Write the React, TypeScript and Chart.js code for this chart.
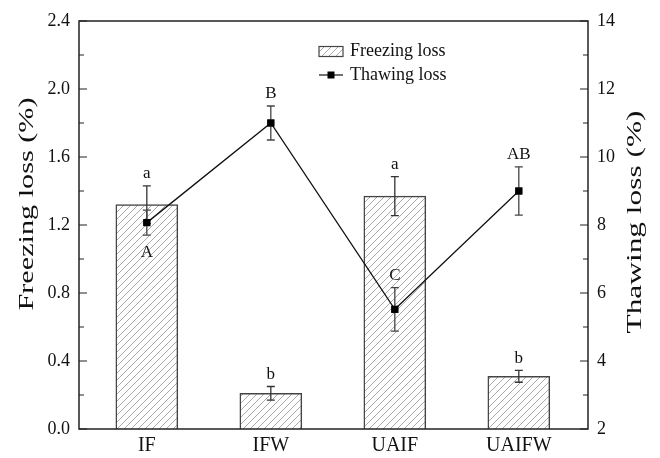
import React, { useEffect, useRef } from "react";
import { Chart, registerables } from "chart.js";

Chart.register(...registerables);

const categories = ["IF", "IFW", "UAIF", "UAIFW"];
const freezingLoss = [1.32, 0.21, 1.37, 0.31];
const freezingErr = [0.11, 0.04, 0.115, 0.035];
const thawingLoss = [8.07, 11.0, 5.52, 9.0];
const thawingErr = [0.37, 0.5, 0.64, 0.71];
const freezingLetters = ["a", "b", "a", "b"];
const thawingLetters = ["A", "B", "C", "AB"];
const thawingLetterBelow = [true, false, false, false];

const leftTitle = "Freezing loss (%)";
const rightTitle = "Thawing loss (%)";
const legendLabels = ["Freezing loss", "Thawing loss"];

const FONT = "'Liberation Serif', 'Times New Roman', serif";

function makeHatch(): CanvasPattern | string {
  const c = document.createElement("canvas");
  const s = 7;
  c.width = s;
  c.height = s;
  const g = c.getContext("2d");
  if (!g) return "#fff";
  g.fillStyle = "#ffffff";
  g.fillRect(0, 0, s, s);
  g.strokeStyle = "#a0a0a0";
  g.lineWidth = 0.9;
  g.beginPath();
  g.moveTo(-1, s + 1);
  g.lineTo(s + 1, -1);
  g.moveTo(-1, 1);
  g.lineTo(1, -1);
  g.moveTo(s - 1, s + 1);
  g.lineTo(s + 1, s - 1);
  g.stroke();
  const p = g.createPattern(c, "repeat");
  return p || "#fff";
}

export default function App() {
  const ref = useRef<HTMLCanvasElement | null>(null);

  useEffect(() => {
    if (!ref.current) return;
    const hatch = makeHatch();

    const overlay = {
      id: "overlay",
      afterDatasetsDraw(chart: any) {
        const ctx = chart.ctx as CanvasRenderingContext2D;
        const xs = chart.scales.x;
        const yl = chart.scales.y;
        const yr = chart.scales.y2;
        ctx.save();
        const drawErr = (x: number, yTop: number, yBot: number, color: string) => {
          ctx.strokeStyle = color;
          ctx.lineWidth = 1.3;
          ctx.beginPath();
          ctx.moveTo(x, yTop);
          ctx.lineTo(x, yBot);
          ctx.moveTo(x - 4, yTop);
          ctx.lineTo(x + 4, yTop);
          ctx.moveTo(x - 4, yBot);
          ctx.lineTo(x + 4, yBot);
          ctx.stroke();
        };
        ctx.font = `17px ${FONT}`;
        ctx.fillStyle = "#111";
        ctx.textAlign = "center";
        ctx.textBaseline = "middle";
        categories.forEach((_, i) => {
          const x = xs.getPixelForValue(i);
          const t = yl.getPixelForValue(freezingLoss[i] + freezingErr[i]);
          const b = yl.getPixelForValue(freezingLoss[i] - freezingErr[i]);
          drawErr(x, t, b, "#333");
          ctx.fillText(freezingLetters[i], x, t - 12);
        });
        categories.forEach((_, i) => {
          const x = xs.getPixelForValue(i);
          const t = yr.getPixelForValue(thawingLoss[i] + thawingErr[i]);
          const b = yr.getPixelForValue(thawingLoss[i] - thawingErr[i]);
          drawErr(x, t, b, "#444");
          if (thawingLetterBelow[i]) ctx.fillText(thawingLetters[i], x, b + 17);
          else ctx.fillText(thawingLetters[i], x, t - 12);
        });
        const meta = chart.getDatasetMeta(1);
        ctx.fillStyle = "#000";
        meta.data.forEach((pt: any) => {
          ctx.fillRect(pt.x - 3.5, pt.y - 3.5, 7, 7);
        });
        ctx.restore();
      },
      afterDraw(chart: any) {
        const ctx = chart.ctx as CanvasRenderingContext2D;
        const { left, right, top, bottom } = chart.chartArea;
        const yl = chart.scales.y;
        const yr = chart.scales.y2;
        ctx.save();
        ctx.strokeStyle = "#222";
        ctx.lineWidth = 1.5;
        ctx.strokeRect(left, top, right - left, bottom - top);
        ctx.lineWidth = 1.2;
        ctx.beginPath();
        for (let k = 0; k <= 12; k++) {
          const y = yl.getPixelForValue(k * 0.2);
          const len = k % 2 === 0 ? 8 : 5;
          ctx.moveTo(left, y);
          ctx.lineTo(left + len, y);
        }
        for (let v = 2; v <= 14; v++) {
          const y = yr.getPixelForValue(v);
          const len = v % 2 === 0 ? 8 : 5;
          ctx.moveTo(right, y);
          ctx.lineTo(right - len, y);
        }
        ctx.stroke();

        const drawTitle = (text: string, cx: number, cy: number, len: number) => {
          ctx.save();
          ctx.translate(cx, cy);
          ctx.rotate(-Math.PI / 2);
          ctx.font = `21px ${FONT}`;
          const w = ctx.measureText(text).width;
          ctx.scale(len / w, 1);
          ctx.fillStyle = "#111";
          ctx.textAlign = "center";
          ctx.textBaseline = "middle";
          ctx.fillText(text, 0, 0);
          ctx.restore();
        };
        drawTitle(leftTitle, 27, 204, 213);
        drawTitle(rightTitle, 635, 222, 223);

        ctx.fillStyle = hatch as any;
        ctx.fillRect(319, 46.5, 24, 10);
        ctx.strokeStyle = "#444";
        ctx.lineWidth = 1.2;
        ctx.strokeRect(319, 46.5, 24, 10);
        ctx.strokeStyle = "#111";
        ctx.beginPath();
        ctx.moveTo(319, 75);
        ctx.lineTo(343, 75);
        ctx.stroke();
        ctx.fillStyle = "#000";
        ctx.fillRect(327.5, 71.5, 7, 7);
        ctx.fillStyle = "#111";
        ctx.font = `18px ${FONT}`;
        ctx.textAlign = "left";
        ctx.textBaseline = "middle";
        ctx.fillText(legendLabels[0], 350, 51);
        ctx.fillText(legendLabels[1], 350, 75);
        ctx.restore();
      },
    };

    const chart = new Chart(ref.current, {
      type: "bar",
      data: {
        datasets: [
          {
            type: "bar",
            label: legendLabels[0],
            data: freezingLoss.map((v, i) => ({ x: i, y: v })),
            backgroundColor: hatch as any,
            borderColor: "#444",
            borderWidth: 1.5,
            borderSkipped: "bottom",
            barThickness: 62,
            yAxisID: "y",
            order: 2,
          } as any,
          {
            type: "line",
            label: legendLabels[1],
            data: thawingLoss.map((v, i) => ({ x: i, y: v })),
            borderColor: "#111",
            borderWidth: 1.3,
            pointStyle: "rect",
            pointRadius: 5,
            pointBackgroundColor: "#000",
            pointBorderWidth: 0,
            tension: 0,
            yAxisID: "y2",
            order: 1,
          } as any,
        ],
      },
      options: {
        responsive: false,
        animation: false,
        layout: { padding: { top: 21, left: 0, right: 0, bottom: 0 } },
        plugins: {
          legend: { display: false },
          tooltip: { enabled: false },
        },
        scales: {
          x: {
            type: "linear",
            min: -0.547,
            max: 3.558,
            offset: false,
            grid: { display: false, drawTicks: false },
            border: { display: false },
            afterBuildTicks: (s: any) => {
              s.ticks = categories.map((_, i) => ({ value: i }));
            },
            afterFit: (s: any) => {
              s.height = 29;
            },
            ticks: {
              autoSkip: false,
              maxRotation: 0,
              padding: 5,
              color: "#111",
              font: { family: FONT, size: 20 },
              callback: (v: any) => categories[Math.round(Number(v))] ?? "",
            },
          },
          y: {
            type: "linear",
            position: "left",
            min: 0,
            max: 2.4,
            grid: { display: false, drawTicks: false },
            border: { display: false },
            afterFit: (s: any) => {
              s.width = 79;
            },
            ticks: {
              stepSize: 0.4,
              padding: 9,
              color: "#111",
              font: { family: FONT, size: 18 },
              callback: (v: any) => Number(v).toFixed(1),
            },
          },
          y2: {
            type: "linear",
            position: "right",
            min: 2,
            max: 14,
            grid: { display: false, drawTicks: false },
            border: { display: false },
            afterFit: (s: any) => {
              s.width = 72;
            },
            ticks: {
              stepSize: 2,
              padding: 9,
              color: "#111",
              font: { family: FONT, size: 18 },
            },
          },
        },
      } as any,
      plugins: [overlay],
    });
    return () => chart.destroy();
  }, []);

  return (
    <div style={{ position: "fixed", left: 0, top: 0, width: 660, height: 458, background: "#fff" }}>
      <canvas ref={ref} width={660} height={458} style={{ display: "block" }} />
    </div>
  );
}
